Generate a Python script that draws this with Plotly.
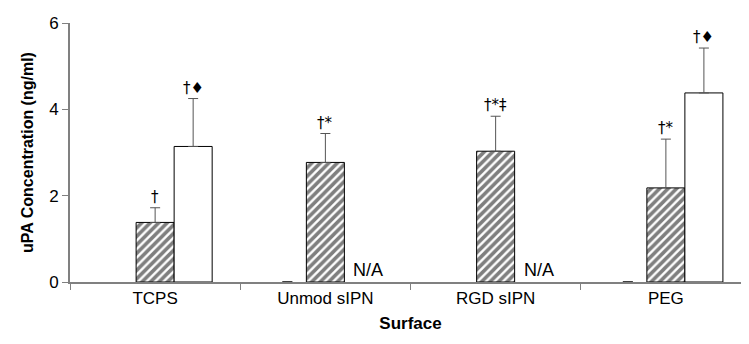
import plotly.graph_objects as go

categories = ["TCPS", "Unmod sIPN", "RGD sIPN", "PEG"]
series0_vals = [None, 0.0, None, 0.0]
series0_err = [None, 0.0, None, 0.0]
hatched_vals = [1.38, 2.77, 3.03, 2.18]
hatched_err = [0.34, 0.67, 0.81, 1.13]
open_vals = [3.14, None, None, 4.38]
open_err = [1.11, None, None, 1.04]
hatched_labels = ["†", "†*", "†*‡", "†*"]
open_labels = ["†♦", "N/A", "N/A", "†♦"]
y_ticks = [0, 2, 4, 6]

FONT = "Liberation Sans, Arial, sans-serif"
SYM = "DejaVu Sans, Liberation Sans, sans-serif"

fig = go.Figure()
fig.add_trace(go.Bar(
    x=categories, y=series0_vals,
    marker=dict(color="white", line=dict(color="black", width=0)),
    error_y=dict(type="data", array=series0_err, visible=True, color="black", thickness=1, width=5),
    showlegend=False,
))
fig.add_trace(go.Bar(
    x=categories, y=hatched_vals,
    marker=dict(color="white", line=dict(color="black", width=1),
                pattern=dict(shape="/", fgcolor="black", bgcolor="white", size=6, solidity=0.6)),
    error_y=dict(type="data", array=hatched_err, symmetric=False, arrayminus=[0]*4,
                 visible=True, color="#555555", thickness=1, width=5),
    showlegend=False,
))
fig.add_trace(go.Bar(
    x=categories, y=open_vals,
    marker=dict(color="white", line=dict(color="black", width=1)),
    error_y=dict(type="data", array=open_err, symmetric=False, arrayminus=[0]*4,
                 visible=True, color="#555555", thickness=1, width=5),
    showlegend=False,
))

annotations = []
for i, c in enumerate(categories):
    top = hatched_vals[i] + hatched_err[i]
    annotations.append(dict(x=c, y=top, text=hatched_labels[i], showarrow=False,
                            yanchor="bottom", xshift=0, yshift=0,
                            font=dict(family=SYM, size=15, color="black")))
    if open_vals[i] is not None:
        top2 = open_vals[i] + open_err[i]
        annotations.append(dict(x=c, y=top2, text=open_labels[i], showarrow=False,
                                yanchor="bottom", xshift=38, yshift=0,
                                font=dict(family=SYM, size=15, color="black")))
    else:
        annotations.append(dict(x=c, y=0, text=open_labels[i], showarrow=False,
                                yanchor="bottom", xshift=43, yshift=0,
                                font=dict(family=FONT, size=18, color="black")))

fig.update_layout(
    width=749, height=344,
    margin=dict(l=62, r=6, t=13, b=70),
    paper_bgcolor="white", plot_bgcolor="white",
    barmode="group", bargap=0.33, bargroupgap=0,
    font=dict(family=FONT, size=16, color="black"),
    annotations=annotations,
    xaxis=dict(
        showline=True, linecolor="#808080", linewidth=2,
        ticks="outside", tickson="boundaries", ticklen=6, tickcolor="#808080",
        tickfont=dict(family=FONT, size=17),
        title=dict(text="<b>Surface</b>", font=dict(family=FONT, size=17), standoff=10),
        showgrid=False, zeroline=False,
    ),
    yaxis=dict(
        range=[0, 6], tickvals=y_ticks,
        showline=True, linecolor="#808080", linewidth=2,
        ticks="outside", ticklen=6, tickcolor="#808080",
        tickfont=dict(family=FONT, size=17),
        title=dict(text="<b>uPA Concentration (ng/ml)</b>", font=dict(family=FONT, size=16), standoff=12),
        showgrid=False, zeroline=False,
    ),
)

fig.write_html("out.html")
